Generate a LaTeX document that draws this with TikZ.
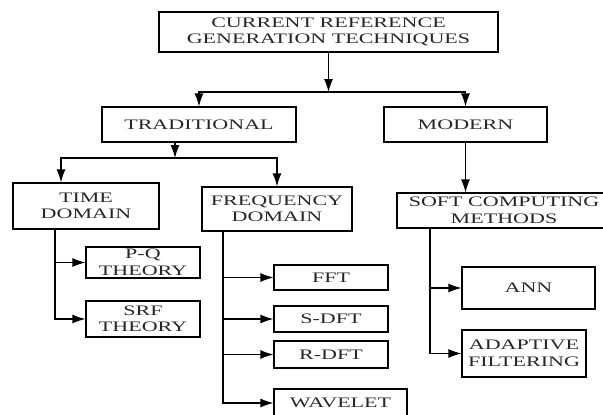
\documentclass[tikz,border=0pt]{standalone}
\usepackage{fontspec}
\setmainfont{Liberation Serif}[FakeStretch=1.52]
\usepackage{tikz}
\usetikzlibrary{arrows.meta,positioning,calc}

\begin{document}
\begin{tikzpicture}[x=1pt,y=-1pt,
  box/.style={draw,line width=1.2pt,inner sep=0pt,align=center,
    font=\fontsize{14.5}{16.5}\selectfont,text=black!85},
  link/.style={-{Latex[length=13pt,width=9pt]},line width=1.2pt}]
  \useasboundingbox (0,0) rectangle (603,415);
  \clip (0,0) rectangle (603,415);
  % levels 0 and 1
  \node[box,minimum width=339,minimum height=40] (crt) at (328.5,32) {CURRENT REFERENCE\\GENERATION TECHNIQUES};
  \node[box,minimum width=194,minimum height=35] (trad) at (199,124.5) {TRADITIONAL};
  \node[box,minimum width=163,minimum height=35] (modern) at (465.5,124.5) {MODERN};
  % level 2
  \node[box,minimum width=146,minimum height=46] (time) at (86,206) {TIME\\DOMAIN};
  \node[box,minimum width=150,minimum height=44] (freq) at (277,209) {FREQUENCY\\DOMAIN};
  \node[box,minimum width=214,minimum height=35] (soft) at (504,210.5) {SOFT COMPUTING\\METHODS};
  % leaves
  \node[box,minimum width=114,minimum height=31] (pq) at (143,262.5) {P-Q\\THEORY};
  \node[box,minimum width=114,minimum height=36] (srf) at (143,319) {SRF\\THEORY};
  \node[box,minimum width=114,minimum height=25] (fft) at (331,277.5) {FFT};
  \node[box,minimum width=114,minimum height=26] (sdft) at (331,319) {S-DFT};
  \node[box,minimum width=114,minimum height=27] (rdft) at (331,354.5) {R-DFT};
  \node[box,minimum width=133,minimum height=28] (wave) at (340.5,403) {WAVELET};
  \node[box,minimum width=133,minimum height=42] (ann) at (528.5,288) {ANN};
  \node[box,minimum width=124,minimum height=47] (adapt) at (524,353.5) {ADAPTIVE\\FILTERING};

  % connectors
  \coordinate (split1) at (328.5,92);
  \coordinate (split2) at (175,158);
  \draw[link] (crt.south) -- (split1);
  \draw[link] (split1) -| (trad.north);
  \draw[link] (split1) -| (modern.north);
  \draw[link] (trad.south -| split2) -- (split2);
  \draw[link] (split2) -| ([xshift=-25]time.north);
  \draw[link] (split2) -| (freq.north);
  \draw[link] (modern.south) -- (modern.south |- soft.north);
  \foreach \n in {pq,srf} \draw[link] ([xshift=-31]time.south) |- (\n.west);
  \foreach \n in {fft,sdft,rdft,wave} \draw[link] ([xshift=-54]freq.south) |- (\n.west);
  \foreach \n in {ann,adapt} \draw[link] ([xshift=-74]soft.south) |- (\n.west);
\end{tikzpicture}
\end{document}
